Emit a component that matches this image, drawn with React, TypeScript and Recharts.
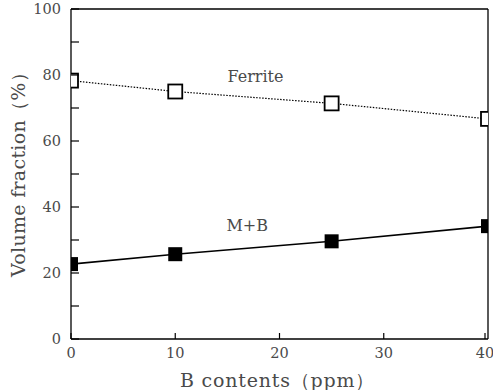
import { LineChart, Line, XAxis, YAxis, ReferenceLine, ReferenceDot, Label } from "recharts";

const boronPpm = [0, 10, 25, 40];
const ferrite = [78.3, 75, 71.4, 66.7];
const martensiteBainite = [22.7, 25.7, 29.6, 34.2];

const xTicks = [0, 10, 20, 30, 40];
const yTicks = [0, 10, 20, 30, 40, 50, 60, 70, 80, 90, 100];

// annotation anchors in data units
const ferriteLabel = { x: 17.7, y: 79.5, text: "Ferrite" };
const mbLabel = { x: 16.9, y: 34.3, text: "M+B" };

const data = boronPpm.map((b, i) => ({ b, ferrite: ferrite[i], mb: martensiteBainite[i] }));

const FONT = "'DejaVu Serif', serif";
const TXT = "#4a4a4a";

function SquareDot({ cx, cy, filled }: { cx?: number; cy?: number; filled: boolean }) {
  if (cx == null || cy == null) return null;
  const s = 14;
  return (
    <rect
      x={cx - s / 2}
      y={cy - s / 2}
      width={s}
      height={s}
      fill={filled ? "#000" : "#fff"}
      stroke="#000"
      strokeWidth={filled ? 0 : 1.8}
    />
  );
}

function YTick(props: any) {
  const { x, y, payload } = props;
  const v = payload.value;
  return (
    <g>
      <line x1={x + 10} x2={x + 18} y1={y} y2={y} stroke="#000" strokeWidth={1.2} />
      {v % 20 === 0 ? (
        <text x={x} y={y} dy={5} textAnchor="end" fontFamily={FONT} fontSize={14.5} fill={TXT}>
          {v}
        </text>
      ) : null}
    </g>
  );
}

function XTick(props: any) {
  const { x, y, payload } = props;
  return (
    <g>
      <line x1={x} x2={x} y1={y - 8} y2={y - 14} stroke="#000" strokeWidth={1.2} />
      <text x={x} y={y} dy={11} textAnchor="middle" fontFamily={FONT} fontSize={14.5} fill={TXT}>
        {payload.value}
      </text>
    </g>
  );
}

export default function App() {
  return (
    <div style={{ position: "absolute", left: 0, top: 0, background: "#fff" }}>
      <LineChart width={493} height={390} data={data} margin={{ top: 9, right: 5, left: 0, bottom: 0 }}>
        <XAxis
          dataKey="b"
          type="number"
          domain={[0, 40]}
          ticks={xTicks}
          height={51}
          tickSize={0}
          tickMargin={8}
          tickLine={false}
          tick={<XTick />}
          stroke="#000"
          strokeWidth={1.3}
          allowDataOverflow
        >
          <Label
            value="B contents（ppm）"
            position="insideBottom"
            offset={3}
            dx={-2}
            style={{ fontFamily: FONT, fontSize: 19, fill: TXT, letterSpacing: 0.8 }}
          />
        </XAxis>
        <YAxis
          type="number"
          domain={[0, 100]}
          ticks={yTicks}
          width={71}
          tickSize={0}
          tickMargin={10}
          tickLine={false}
          tick={<YTick />}
          stroke="#000"
          strokeWidth={1.3}
          allowDataOverflow
        >
          <Label
            value="Volume fraction（%）"
            angle={-90}
            position="insideLeft"
            offset={18}
            dy={-4}
            style={{ fontFamily: FONT, fontSize: 19, fill: TXT, textAnchor: "middle", letterSpacing: 0.3 }}
          />
        </YAxis>
        <ReferenceLine y={100} stroke="#000" strokeWidth={1.3} ifOverflow="visible" />
        <ReferenceLine x={40} stroke="#000" strokeWidth={1.3} ifOverflow="visible" />
        <Line
          dataKey="ferrite"
          stroke="#000"
          strokeWidth={1.2}
          strokeDasharray="1.5 1.5"
          dot={(p: any) => <SquareDot key={`f${p.index}`} cx={p.cx} cy={p.cy} filled={false} />}
          activeDot={false}
          isAnimationActive={false}
        />
        <Line
          dataKey="mb"
          stroke="#000"
          strokeWidth={1.6}
          dot={(p: any) => <SquareDot key={`m${p.index}`} cx={p.cx} cy={p.cy} filled />}
          activeDot={false}
          isAnimationActive={false}
        />
        <ReferenceDot x={ferriteLabel.x} y={ferriteLabel.y} r={0} stroke="none" ifOverflow="visible">
          <Label value={ferriteLabel.text} position="center" style={{ fontFamily: FONT, fontSize: 16, fill: TXT }} />
        </ReferenceDot>
        <ReferenceDot x={mbLabel.x} y={mbLabel.y} r={0} stroke="none" ifOverflow="visible">
          <Label value={mbLabel.text} position="center" style={{ fontFamily: FONT, fontSize: 16, fill: TXT }} />
        </ReferenceDot>
      </LineChart>
    </div>
  );
}
